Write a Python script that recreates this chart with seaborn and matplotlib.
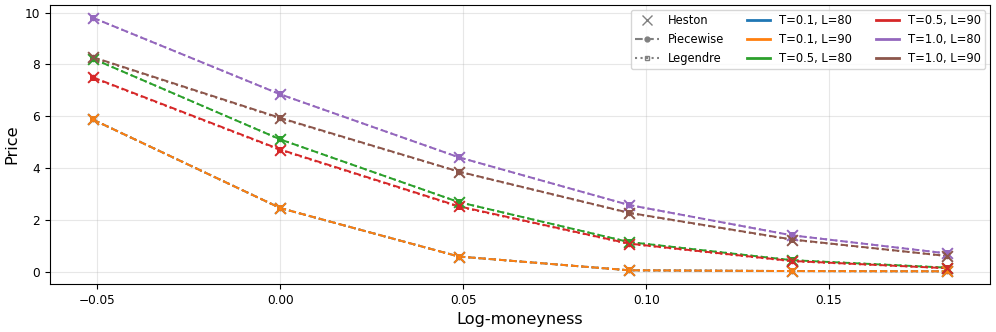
import numpy as np
import pandas as pd
import matplotlib
matplotlib.use("Agg")
import matplotlib.pyplot as plt
import seaborn as sns
from matplotlib.lines import Line2D

# ---- data ----
log_moneyness = [-0.0513, 0.0, 0.0488, 0.0953, 0.1398, 0.1823]
series_labels = ["T=0.1, L=80", "T=0.1, L=90", "T=0.5, L=80",
                 "T=0.5, L=90", "T=1.0, L=80", "T=1.0, L=90"]

heston_t01_l80 = [5.87, 2.45, 0.58, 0.05, 0.02, 0.01]
heston_t01_l90 = [5.87, 2.45, 0.58, 0.05, 0.02, 0.01]
heston_t05_l80 = [8.22, 5.10, 2.68, 1.14, 0.44, 0.15]
heston_t05_l90 = [7.50, 4.71, 2.52, 1.08, 0.41, 0.13]
heston_t10_l80 = [9.80, 6.84, 4.41, 2.57, 1.40, 0.70]
heston_t10_l90 = [8.28, 5.93, 3.86, 2.27, 1.22, 0.60]

piecewise_t01_l80 = [5.87, 2.45, 0.58, 0.05, 0.02, 0.01]
piecewise_t01_l90 = [5.87, 2.45, 0.58, 0.05, 0.02, 0.01]
piecewise_t05_l80 = [8.22, 5.10, 2.68, 1.14, 0.44, 0.15]
piecewise_t05_l90 = [7.50, 4.71, 2.52, 1.08, 0.41, 0.13]
piecewise_t10_l80 = [9.80, 6.84, 4.41, 2.57, 1.40, 0.70]
piecewise_t10_l90 = [8.28, 5.93, 3.86, 2.27, 1.24, 0.60]

legendre_t01_l80 = [5.87, 2.45, 0.58, 0.05, 0.02, 0.01]
legendre_t01_l90 = [5.87, 2.45, 0.58, 0.05, 0.02, 0.01]
legendre_t05_l80 = [8.22, 5.10, 2.68, 1.14, 0.44, 0.15]
legendre_t05_l90 = [7.48, 4.69, 2.50, 1.07, 0.40, 0.13]
legendre_t10_l80 = [9.80, 6.84, 4.41, 2.57, 1.40, 0.70]
legendre_t10_l90 = [8.26, 5.91, 3.85, 2.26, 1.23, 0.60]

heston = [heston_t01_l80, heston_t01_l90, heston_t05_l80,
          heston_t05_l90, heston_t10_l80, heston_t10_l90]
piecewise = [piecewise_t01_l80, piecewise_t01_l90, piecewise_t05_l80,
             piecewise_t05_l90, piecewise_t10_l80, piecewise_t10_l90]
legendre = [legendre_t01_l80, legendre_t01_l90, legendre_t05_l80,
            legendre_t05_l90, legendre_t10_l80, legendre_t10_l90]

# ---- plot ----
plt.rcParams["font.family"] = ["DejaVu Sans"]
colors = sns.color_palette("tab10", 6)

fig, ax = plt.subplots(figsize=(9.96, 3.32), dpi=100)
fig.subplots_adjust(left=50 / 996, right=990 / 996, top=1 - 5 / 332,
                    bottom=1 - 284 / 332)

for i, lab in enumerate(series_labels):
    c = colors[i]
    sns.scatterplot(x=log_moneyness, y=heston[i], ax=ax, marker="x", s=60,
                    color=c, linewidth=1.4, zorder=3, legend=False)
    sns.lineplot(x=log_moneyness, y=piecewise[i], ax=ax, color=c,
                 linestyle="--", marker="o", markersize=4, linewidth=1.4,
                 markeredgewidth=0, legend=False)
    sns.lineplot(x=log_moneyness, y=legendre[i], ax=ax, color=c,
                 linestyle=":", marker="s", markersize=5, linewidth=1.4,
                 markeredgewidth=0, legend=False)

ax.grid(True, alpha=0.3)
ax.set_xlabel("Log-moneyness", fontsize=11.6)
ax.set_ylabel("Price", fontsize=11.6)
ax.set_xticks([-0.05, 0.0, 0.05, 0.10, 0.15])
ax.set_xticklabels(["\u22120.05", "0.00", "0.05", "0.10", "0.15"])
ax.set_yticks([0, 2, 4, 6, 8, 10])
ax.tick_params(labelsize=8.7)

handles = [
    Line2D([], [], color="gray", marker="x", linestyle="none", markersize=7),
    Line2D([], [], color="gray", marker="o", linestyle="--", markersize=3.5),
    Line2D([], [], color="gray", marker="s", linestyle=":", markersize=3.5,
           markerfacecolor="none"),
]
labels = ["Heston", "Piecewise", "Legendre"]
for i, lab in enumerate(series_labels):
    handles.append(Line2D([], [], color=colors[i], linewidth=2))
    labels.append(lab)

ax.legend(handles, labels, ncol=3, fontsize=8.3, loc="upper right",
          framealpha=0.8, borderaxespad=0.4)

fig.savefig("out.png", dpi=100)
